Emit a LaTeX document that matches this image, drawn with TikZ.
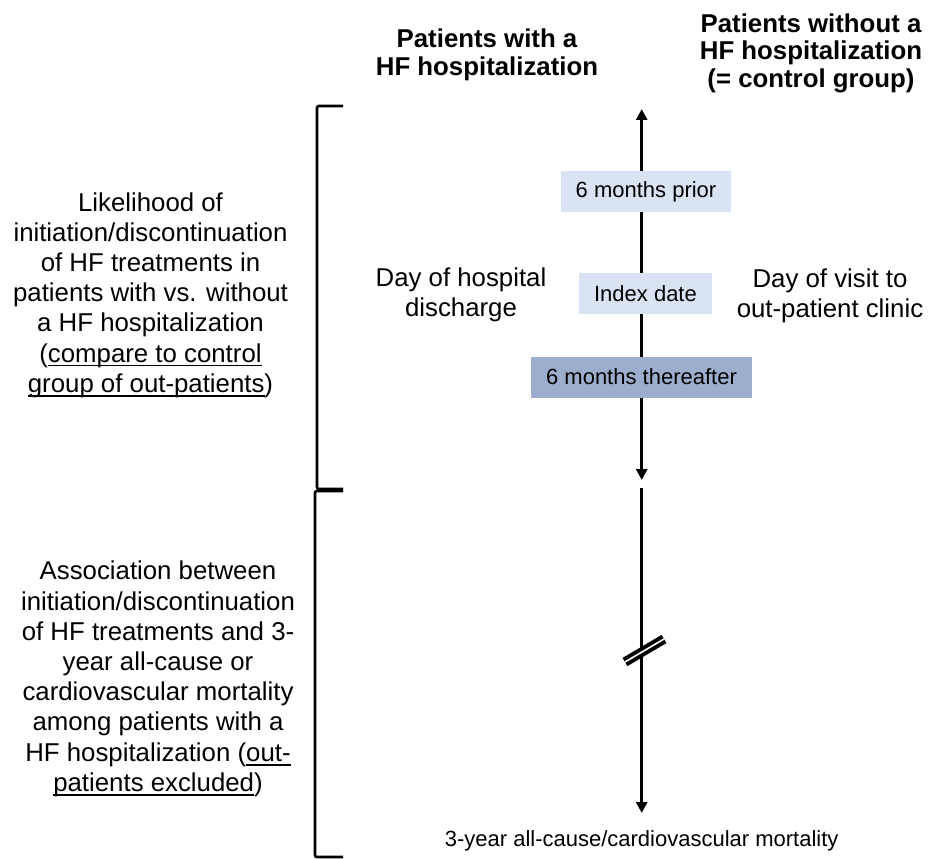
\documentclass[tikz,border=0pt]{standalone}
\usepackage{fontspec}
\setmainfont{Liberation Sans}
\usetikzlibrary{arrows.meta}
\definecolor{boxlight}{RGB}{218,227,243}
\definecolor{boxdark}{RGB}{157,173,205}
\newcommand\bodysize{\fontsize{25.8}{30.2}\selectfont}
\newcommand\boxsize{\fontsize{22}{26}\selectfont}
\newcommand\headsize{\fontsize{25.8}{27.5}\selectfont\bfseries}
\newcommand\undertext[1]{\leavevmode\setbox0\hbox{#1}\rlap{\vrule width\wd0 height -2.8pt depth 4.4pt}\box0}

\begin{document}
\begin{tikzpicture}[
x=1pt,y=-1pt,
timeline/.style={line width=3pt},
tltip/.tip={Triangle[width=11pt,length=11pt]},
lightbox/.style={fill=boxlight,inner xsep=15pt,inner ysep=0pt,minimum height=41pt,font=\boxsize},
darkbox/.style={lightbox,fill=boxdark},
sidetext/.style={align=center,font=\bodysize,inner sep=0pt},
headtext/.style={align=center,font=\headsize,inner sep=0pt},
bracket/.style={line width=2.7pt,rounded corners=2pt}
]
\useasboundingbox (0,0) rectangle (930,859);

% headers
\node[headtext] (withhf) at (487,55) {Patients with a\\HF hospitalization};
\node[headtext] (withouthf) at (811,53) {Patients without a\\HF hospitalization\\(= control group)};

% timeline
\coordinate (tltop) at (641.7,109);
\coordinate (tlmid) at (641.7,480);
\coordinate (tlstart) at (641.7,488);
\coordinate (tlend) at (641.7,813);
\draw[timeline,tltip-tltip] (tlmid) -- (tltop);
\draw[timeline,-tltip] (tlstart) -- (tlend);

% break mark
\coordinate (brka) at (625,662);
\coordinate (brkb) at (664,639);
\draw[line width=9.5pt] (brka) -- (brkb);
\draw[white,line width=1.6pt] (brka) -- (brkb);

% periods
\node[lightbox] (prior) at (646,191.5) {6 months prior};
\node[lightbox] (index) at (645.5,293.5) {Index date};
\node[darkbox] (after) at (641.5,377) {6 months thereafter};

\node[sidetext] (discharge) at (461,295) {Day of hospital\\discharge};
\node[sidetext] (visit) at (830,296) {Day of visit to\\out-patient clinic};
\node[font=\boxsize,inner sep=0pt] (mortality) at (641.7,841) {3-year all-cause/cardiovascular mortality};

% left brackets
\draw[bracket] (343,106) -- (317,106) -- (317,489) -- (343,489);
\draw[bracket] (343,491) -- (315,491) -- (315,857) -- (343,857);

\node[sidetext] (likelihood) at (150.5,295) {Likelihood of\\initiation/discontinuation\\of HF treatments in\\patients with vs. without\\a HF hospitalization\\(\undertext{compare to control}\\\undertext{group of out-patients})};
\node[sidetext] (association) at (158,679) {Association between\\initiation/discontinuation\\of HF treatments and 3-\\year all-cause or\\cardiovascular mortality\\among patients with a\\HF hospitalization (\undertext{out-}\\\undertext{patients excluded})};
\end{tikzpicture}
\end{document}
